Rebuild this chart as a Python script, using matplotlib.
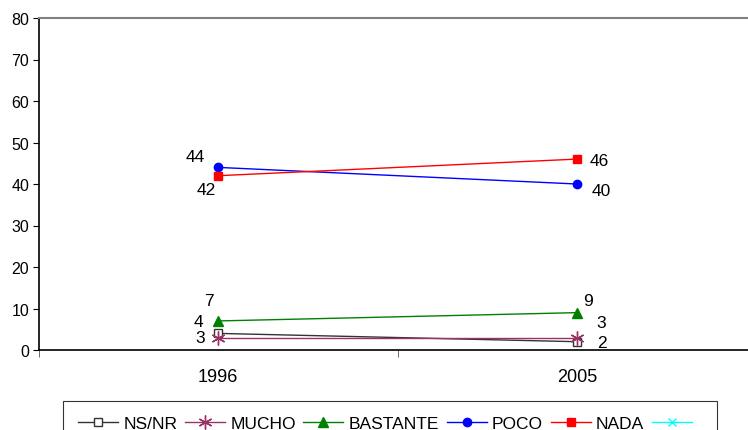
import matplotlib.pyplot as plt
from matplotlib.lines import Line2D

plt.rcParams['font.family'] = ['Liberation Sans', 'DejaVu Sans']

# datos
years = ['1996', '2005']
ns_nr = [4, 2]
mucho = [3, 3]
bastante = [7, 9]
poco = [44, 40]
nada = [42, 46]
extra = []  # sexta serie sin datos

series_names = ['NS/NR', 'MUCHO', 'BASTANTE', 'POCO', 'NADA', ' ']

fig = plt.figure(figsize=(7.48, 4.31), dpi=100)
ax = fig.add_axes([39 / 748, 1 - 351 / 431, (756 - 39) / 748, (351 - 19) / 431])

x = list(range(len(years)))

styles = [
    dict(color='#333333', marker='s', mfc='white', mec='#333333', ms=6),
    dict(color='#993366', marker=(6, 2, 0), mec='#993366', ms=10, mew=1),
    dict(color='#008000', marker='^', mfc='#008000', mec='#008000', ms=7),
    dict(color='#0000FF', marker='o', mfc='#0000FF', mec='#0000FF', ms=6),
    dict(color='#FF0000', marker='s', mfc='#FF0000', mec='#FF0000', ms=6),
    dict(color='#00FFFF', marker='x', mec='#00FFFF', ms=6),
]

handles = []
for vals, st in zip([ns_nr, mucho, bastante, poco, nada, extra], styles):
    if vals:
        ax.plot(x, vals, lw=1, **st)
    handles.append(Line2D([], [], lw=1, **st))

# etiquetas de datos (offset en pixeles aprox.)
labels = [
    (0, poco[0], -23, 11), (0, nada[0], -12, -14),
    (0, bastante[0], -9, 20), (0, ns_nr[0], -20, 12), (0, mucho[0], -18, 0),
    (1, nada[1], 23, -1), (1, poco[1], 25, -7),
    (1, bastante[1], 11, 12), (1, mucho[1], 24, 15), (1, ns_nr[1], 25, -1),
]
for xi, v, dx, dy in labels:
    ax.annotate(str(v), (xi, v), xytext=(dx * 0.72, dy * 0.72),
                textcoords='offset points', ha='center', va='center', fontsize=12.5)

ax.set_xlim(-0.5, 1.5)
ax.set_ylim(0, 80)
ax.set_yticks(range(0, 81, 10))
ax.set_xticks(x)
ax.set_xticklabels(years)
ax.set_xticks([-0.5, 0.5, 1.5], minor=True)
ax.tick_params(axis='x', which='major', length=0, pad=13, labelsize=13)
ax.tick_params(axis='x', which='minor', length=5, direction='out', color='#555555')
ax.tick_params(axis='y', length=4, direction='out', labelsize=11.5, pad=3)

ax.spines['top'].set_color('#808080')
ax.spines['top'].set_linewidth(1.5)
ax.spines['right'].set_visible(False)
ax.spines['left'].set_linewidth(1.2)
ax.spines['bottom'].set_linewidth(1.2)

leg = fig.legend(handles, series_names, loc='upper center',
                 bbox_to_anchor=(390 / 748, 1 - 402 / 431), ncol=6, fontsize=12.5,
                 frameon=True, fancybox=False, edgecolor='black',
                 handlelength=2.3, handletextpad=0.3, columnspacing=0.45,
                 borderpad=0.85, borderaxespad=0)
leg.get_frame().set_linewidth(0.8)

fig.savefig('out.png', dpi=100)
